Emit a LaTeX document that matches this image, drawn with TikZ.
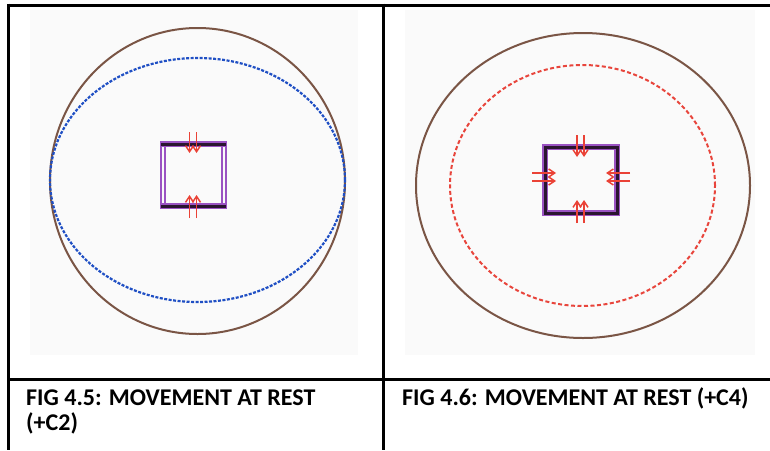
\documentclass[tikz,border=0pt]{standalone}
\usepackage{fontspec}
\setmainfont{Carlito}
\usepackage{tikz}
\usepackage{xcolor}
\usetikzlibrary{arrows.meta}
\definecolor{ring-brown}{HTML}{7A5545}
\definecolor{ring-blue}{HTML}{1F4FC4}
\definecolor{ring-red}{HTML}{E8453C}
\definecolor{push-red}{HTML}{EA4236}
\definecolor{cell-purple}{HTML}{9A52C2}
\definecolor{cell-dark}{HTML}{2A1530}
\definecolor{panel-grey}{HTML}{FAFAFA}
\tikzset{
    table-line/.style = {draw=black, line width=3pt},
    panel-bg/.style = {fill=panel-grey, draw=none},
    outer-ring/.style = {draw=ring-brown, line width=2pt},
    inner-ring-blue/.style = {draw=ring-blue, line width=2.2pt, dash pattern=on 3pt off 1.5pt},
    inner-ring-red/.style = {draw=ring-red, line width=2pt, dash pattern=on 4pt off 2.5pt},
    cell-thin/.style = {draw=cell-purple, line width=1.1pt},
    cell-bar-glow/.style = {draw=cell-purple, line width=5.5pt},
    cell-bar/.style = {draw=cell-dark, line width=3pt},
    push-arrow/.style = {draw=push-red, line width=1.5pt, -{Straight Barb[length=6pt, width=8pt]}},
    caption-text/.style = {font=\fontsize{24}{28}\selectfont\bfseries, inner sep=0pt, anchor=base west},
}

\begin{document}
\begin{tikzpicture}[x=1pt, y=-1pt]
\useasboundingbox (0,0) rectangle (770,450);
% panels
\fill[panel-bg] (30,10) rectangle (358,355);
\fill[panel-bg] (405,10) rectangle (755,355);

% left figure: C2
\draw[outer-ring] (197.5,181) ellipse [x radius=147.5pt, y radius=153pt];
\draw[inner-ring-blue] (197.5,180) ellipse [x radius=147.5pt, y radius=122pt];
\coordinate (cell-a-nw) at (161,142);
\coordinate (cell-a-se) at (226,208);
\draw[cell-thin] (cell-a-nw) rectangle (cell-a-se);
\draw[cell-thin] (165,144) -- (165,206);
\draw[cell-thin] (222,144) -- (222,206);
\draw[cell-bar-glow] (161,144) -- (226,144);
\draw[cell-bar-glow] (161,206) -- (226,206);
\draw[cell-bar] (161,144) -- (226,144);
\draw[cell-bar] (161,206) -- (226,206);
\foreach \x in {189.5,196.5} {
    \draw[push-arrow] (\x,132) -- (\x,153);
    \draw[push-arrow] (\x,218) -- (\x,195);
}

% right figure: C4
\draw[outer-ring] (583,185.5) ellipse [x radius=167pt, y radius=152.5pt];
\draw[inner-ring-red] (582.5,185.5) ellipse [x radius=132.5pt, y radius=120.5pt];
\draw[cell-bar-glow] (545,147) rectangle (617,213);
\draw[cell-bar] (545,147) rectangle (617,213);
\foreach \x in {577,584} {
    \draw[push-arrow] (\x,135) -- (\x,157);
    \draw[push-arrow] (\x,223) -- (\x,200);
}
\foreach \y in {173,181} {
    \draw[push-arrow] (532,\y) -- (556,\y);
    \draw[push-arrow] (630,\y) -- (606,\y);
}

% table
\draw[table-line] (8,5) -- (770,5);
\draw[table-line] (8,379) -- (770,379);
\draw[table-line] (8,3.5) -- (8,450);
\draw[table-line] (383,3.5) -- (383,450);

% captions
\node[caption-text] (cap-a-1) at (26,405) {FIG 4.5: MOVEMENT AT REST};
\node[caption-text] (cap-a-2) at (26,430) {(+C2)};
\node[caption-text] (cap-b-1) at (402,405) {FIG 4.6: MOVEMENT AT REST (+C4)};
\end{tikzpicture}
\end{document}
